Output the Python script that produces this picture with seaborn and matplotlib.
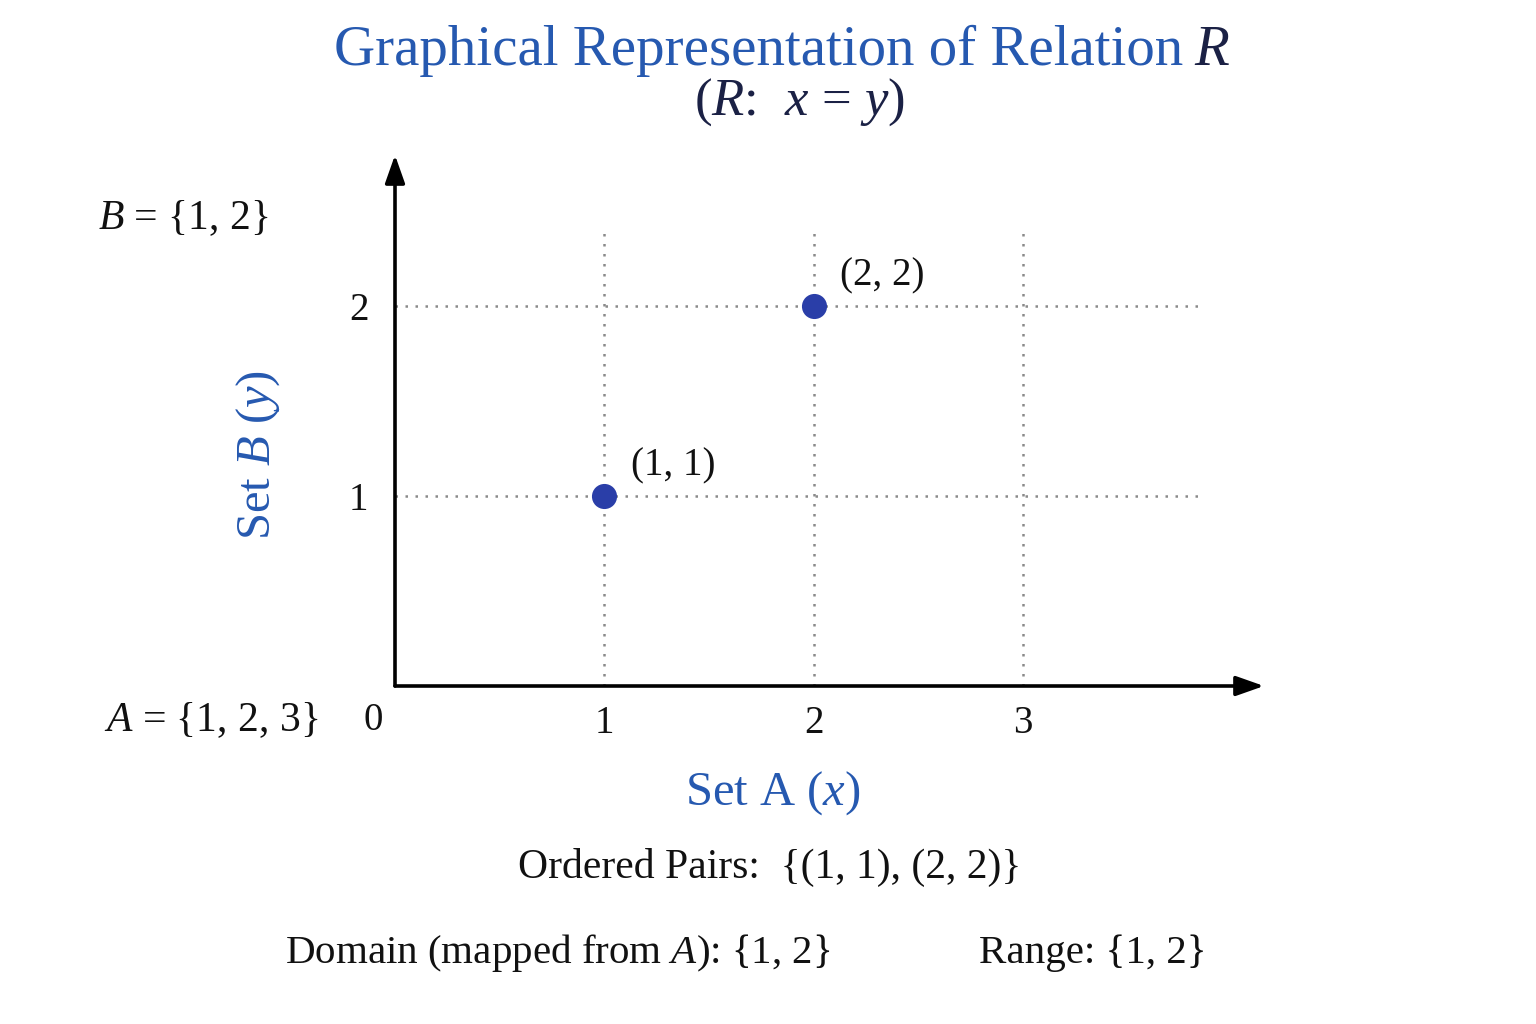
import matplotlib
matplotlib.use("Agg")
import matplotlib.pyplot as plt
import seaborn as sns
import pandas as pd

# relation R on A x B
set_a = [1, 2, 3]
set_b = [1, 2]
pair_x = [1, 2]
pair_y = [1, 2]
pair_labels = ["(1, 1)", "(2, 2)"]

blue = "#2659b0"
navy = "#1b2145"
dot = "#2a3ea8"
ink = "#111111"

sns.set_style("white")
plt.rcParams["font.family"] = ["Liberation Serif", "DejaVu Serif"]
plt.rcParams["mathtext.fontset"] = "custom"
plt.rcParams["mathtext.rm"] = "Liberation Serif"
plt.rcParams["mathtext.it"] = "Liberation Serif:italic"

fig = plt.figure(figsize=(15.36, 10.24), dpi=100)
ax = fig.add_axes([395 / 1536, 338 / 1024, 869 / 1536, 531 / 1024])
ax.set_xlim(0, 4.15)
ax.set_ylim(0, 2.795)
for s in ax.spines.values():
    s.set_visible(False)

# dotted guide lines
ax.vlines(set_a, 0, 2.41, colors="#8a8a8a", linestyles=(0, (1, 3)), linewidth=1.8, zorder=1)
ax.hlines(set_b, 0, 3.84, colors="#8a8a8a", linestyles=(0, (1, 3)), linewidth=1.8, zorder=1)

# axes with arrows
arrow = dict(arrowstyle="-|>,head_length=1.7,head_width=0.6", color="black", lw=2.6,
             shrinkA=0, shrinkB=0)
ax.annotate("", xy=(1, 0), xytext=(0, 0), xycoords="axes fraction", arrowprops=arrow)
ax.annotate("", xy=(0, 1), xytext=(0, 0), xycoords="axes fraction", arrowprops=arrow)

df = pd.DataFrame({"x": pair_x, "y": pair_y, "label": pair_labels})
sns.scatterplot(data=df, x="x", y="y", color=dot, s=280, edgecolor=dot, zorder=5, ax=ax)
for _, r in df.iterrows():
    ax.annotate(r["label"], (r["x"], r["y"]), xytext=(19, 22), textcoords="offset points",
                fontsize=28, color=ink, va="center", ha="left")

ax.set_xticks(set_a)
ax.set_yticks(set_b)
ax.set_xticklabels([str(v) for v in set_a])
ax.set_yticklabels([str(v) for v in set_b])
ax.tick_params(axis="x", direction="inout", length=12, width=1.6, labelsize=28,
               colors=ink, pad=8)
ax.tick_params(axis="y", direction="inout", length=12, width=1.6, labelsize=28,
               colors=ink, pad=13)
ax.set_xlabel("")
ax.set_ylabel("")

W, H = 1536, 1024
def put(px, py, s, **kw):
    fig.text(px / W, 1 - py / H, s, **kw)

put(1183, 51, "Graphical Representation of Relation", fontsize=41, color=blue,
    ha="right", va="center")
put(1194, 51, r"$R$", fontsize=41, color=navy, ha="left", va="center")
put(800, 102, r"($R$:  $x$ = $y$)", fontsize=38, color=navy, ha="center", va="center")

put(183, 218, r"$B$ = {1, 2}", fontsize=30, color=ink, ha="center", va="center")
put(211, 720, r"$A$ = {1, 2, 3}", fontsize=30, color=ink, ha="center", va="center")
put(373, 720, "0", fontsize=28, color=ink, ha="center", va="center")

put(773, 793, r"Set A ($x$)", fontsize=35, color=blue, ha="center", va="center")
put(258, 455, r"Set $B$ ($y$)", fontsize=35, color=blue, ha="center", va="center",
    rotation=90)

put(770, 867, "Ordered Pairs:  {(1, 1), (2, 2)}", fontsize=30, color=ink,
    ha="center", va="center")
put(558, 953, r"Domain (mapped from $A$): {1, 2}", fontsize=29.5, color=ink,
    ha="center", va="center")
put(1093, 953, "Range: {1, 2}", fontsize=29.5, color=ink, ha="center", va="center")

fig.savefig("out.png", dpi=100, facecolor="white")
